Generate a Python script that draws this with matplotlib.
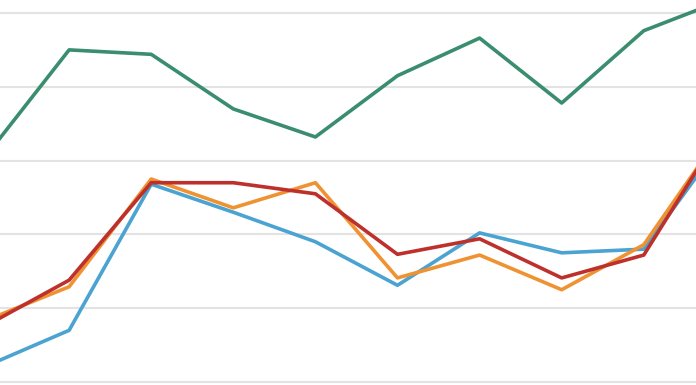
import matplotlib.pyplot as plt
import numpy as np

# series values, one per period (chart is cropped at both ends)
periods = list(range(10))
green = [30.8, 45.0, 44.4, 37.0, 33.2, 41.5, 46.6, 37.8, 47.6, 51.9]
orange = [8.4, 12.9, 27.5, 23.6, 27.0, 14.1, 17.2, 12.5, 18.6, 34.6]
red = [7.7, 13.8, 27.0, 27.0, 25.5, 17.3, 19.4, 14.1, 17.2, 35.0]
blue = [2.2, 7.0, 26.8, 23.0, 19.0, 13.1, 20.2, 17.5, 18.0, 33.3]
grid_vals = [0, 10, 20, 30, 40, 50]

COLORS = {"green": "#3a8d6e", "orange": "#ef9231", "red": "#be302b", "blue": "#4ba3d1"}

fig = plt.figure(figsize=(6.96, 3.85), dpi=100)
ax = fig.add_axes([0, 0, 1, 1])

for y in grid_vals:
    ax.axhline(y, color="#e3e3e3", lw=1.5, zorder=1)

ax.plot(periods, blue, color=COLORS["blue"], lw=2.6, zorder=3)
ax.plot(periods, orange, color=COLORS["orange"], lw=2.6, zorder=4)
ax.plot(periods, red, color=COLORS["red"], lw=2.6, zorder=5)
ax.plot(periods, green, color=COLORS["green"], lw=2.6, zorder=6)

ax.set_xlim(0.158, 8.636)
ax.set_ylim(-0.41, 51.76)
ax.axis("off")

plt.savefig("out.png", dpi=100, facecolor="white")
